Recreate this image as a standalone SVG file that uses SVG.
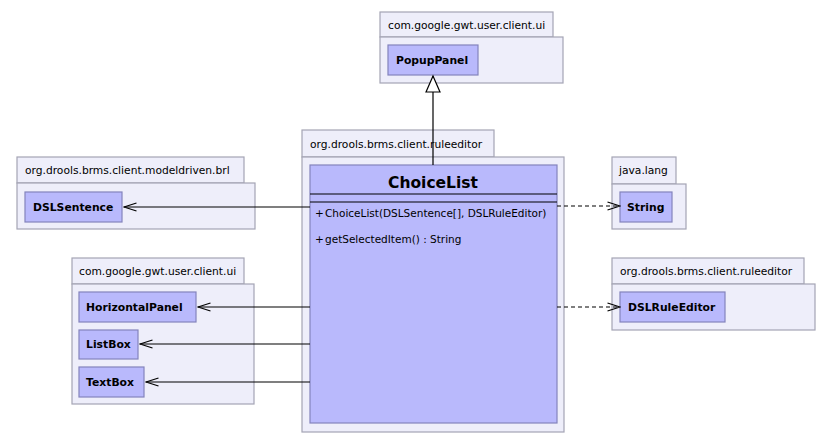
<svg xmlns="http://www.w3.org/2000/svg" width="834" height="443" viewBox="0 0 834 443">
<style>
.pkg{fill:#eeeefa;stroke:#a4a4b4;stroke-width:1.2}
.cls{fill:#b9b9fc;stroke:#8484bc;stroke-width:1.2}
.pt{font-family:"DejaVu Sans",sans-serif;font-size:10.7px;fill:#000}
.cn{font-family:"DejaVu Sans",sans-serif;font-size:10.8px;font-weight:bold;fill:#000}
.mt{font-family:"DejaVu Sans",sans-serif;font-size:10.5px;fill:#000}
.ln{stroke:#000;stroke-width:1.2;fill:none}
.dl{stroke:#000;stroke-width:1.2;fill:none;stroke-dasharray:4,3}
</style>
<defs>
<marker id="open" markerWidth="14" markerHeight="10" refX="13" refY="5" orient="auto" markerUnits="userSpaceOnUse">
<path d="M0.5,1 L13,5 L0.5,9" fill="none" stroke="#000" stroke-width="1.2"/>
</marker>
<marker id="tri" markerWidth="20" markerHeight="20" refX="17" refY="8" orient="auto" markerUnits="userSpaceOnUse">
<path d="M1,1 L17,8 L1,15 Z" fill="#fff" stroke="#000" stroke-width="1.2"/>
</marker>
</defs>
<rect width="834" height="443" fill="#fff"/>

<g id="pkg-gwt-top">
<rect class="pkg" x="380" y="12" width="173" height="25"/>
<rect class="pkg" x="380" y="37" width="183" height="46"/>
<text class="pt" x="388" y="29">com.google.gwt.user.client.ui</text>
</g>
<g id="PopupPanel">
<rect class="cls" x="388" y="45" width="90" height="30"/>
<text class="cn" x="396" y="64">PopupPanel</text>
</g>

<g id="pkg-ruleeditor-main">
<rect class="pkg" x="302" y="130" width="192" height="27"/>
<rect class="pkg" x="302" y="157" width="262" height="275"/>
<text class="pt" x="310" y="148">org.drools.brms.client.ruleeditor</text>
</g>
<g id="ChoiceList">
<rect class="cls" x="310" y="165" width="247" height="258"/>
<text x="433" y="188" text-anchor="middle" font-family="DejaVu Sans,sans-serif" font-size="15.5" font-weight="bold">ChoiceList</text>
<line x1="310" y1="194" x2="557" y2="194" stroke="#000" stroke-width="1.2"/>
<line x1="310" y1="202" x2="557" y2="202" stroke="#000" stroke-width="1.2"/>
<text class="mt" x="315" y="217">+</text>
<text class="mt" x="325" y="217">ChoiceList(DSLSentence[], DSLRuleEditor)</text>
<text class="mt" x="315" y="243">+</text>
<text class="mt" x="325" y="243">getSelectedItem() : String</text>
</g>

<g id="pkg-modeldriven">
<rect class="pkg" x="17" y="157" width="227" height="26"/>
<rect class="pkg" x="17" y="183" width="238" height="46"/>
<text class="pt" x="25" y="174">org.drools.brms.client.modeldriven.brl</text>
</g>
<g id="DSLSentence">
<rect class="cls" x="25" y="192" width="97" height="30"/>
<text class="cn" x="33" y="211">DSLSentence</text>
</g>

<g id="pkg-gwt-left">
<rect class="pkg" x="72" y="258" width="172" height="26"/>
<rect class="pkg" x="72" y="284" width="182" height="120"/>
<text class="pt" x="79" y="275">com.google.gwt.user.client.ui</text>
</g>
<g id="HorizontalPanel">
<rect class="cls" x="79" y="292" width="117" height="30"/>
<text class="cn" x="86" y="311">HorizontalPanel</text>
</g>
<g id="ListBox">
<rect class="cls" x="79" y="330" width="59" height="29"/>
<text class="cn" x="86" y="348">ListBox</text>
</g>
<g id="TextBox">
<rect class="cls" x="79" y="367" width="65" height="30"/>
<text class="cn" x="86" y="386">TextBox</text>
</g>

<g id="pkg-javalang">
<rect class="pkg" x="612" y="157" width="64" height="27"/>
<rect class="pkg" x="612" y="184" width="74" height="45"/>
<text class="pt" x="619" y="174">java.lang</text>
</g>
<g id="String">
<rect class="cls" x="620" y="192" width="52" height="30"/>
<text class="cn" x="627" y="211">String</text>
</g>

<g id="pkg-ruleeditor-right">
<rect class="pkg" x="612" y="258" width="192" height="26"/>
<rect class="pkg" x="612" y="284" width="203" height="46"/>
<text class="pt" x="620" y="275">org.drools.brms.client.ruleeditor</text>
</g>
<g id="DSLRuleEditor">
<rect class="cls" x="620" y="292" width="105" height="30"/>
<text class="cn" x="628" y="311">DSLRuleEditor</text>
</g>

<g id="connectors">
<line class="ln" x1="433" y1="165" x2="433" y2="76" marker-end="url(#tri)"/>
<line class="ln" x1="310" y1="207" x2="124" y2="207" marker-end="url(#open)"/>
<line class="ln" x1="310" y1="307" x2="198" y2="307" marker-end="url(#open)"/>
<line class="ln" x1="310" y1="344" x2="140" y2="344" marker-end="url(#open)"/>
<line class="ln" x1="310" y1="382" x2="146" y2="382" marker-end="url(#open)"/>
<line class="dl" x1="557" y1="206" x2="620" y2="206" marker-end="url(#open)"/>
<line class="dl" x1="557" y1="307" x2="620" y2="307" marker-end="url(#open)"/>
</g>
</svg>
